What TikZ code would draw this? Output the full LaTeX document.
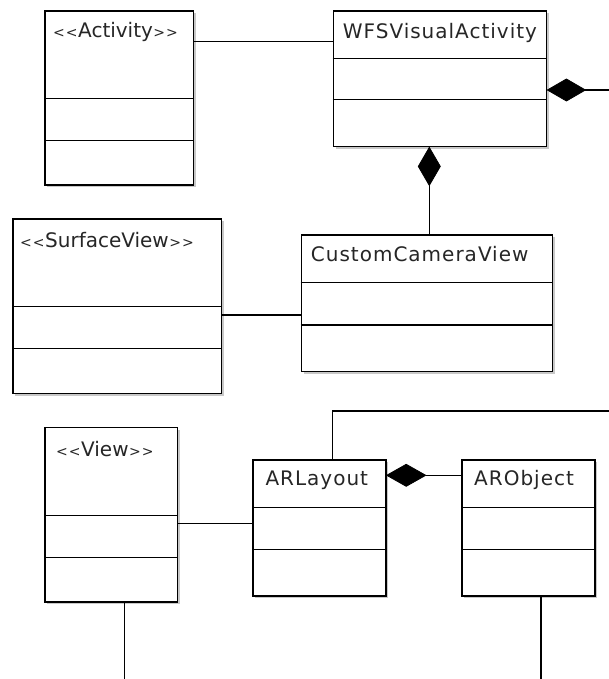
\documentclass[tikz,border=0pt]{standalone}
\usepackage{fontspec}
\setmainfont{DejaVu Sans}
\newfontfamily\namefont[LetterSpace=5]{DejaVu Sans}
\usetikzlibrary{calc,shadows}

\tikzset{
  classbox/.style={draw, line width=1.7pt, fill=white, anchor=north west, inner sep=0pt,
    drop shadow={shadow xshift=2pt, shadow yshift=-2pt, fill=black!30, opacity=0.7}},
  divider/.style={line width=1.5pt},
  link/.style={line width=1.5pt},
  classname/.style={anchor=base west, inner sep=0pt, text=black!85,
    font=\namefont\fontsize{20}{24}\selectfont},
  stereo/.style={anchor=base west, inner sep=0pt, text=black!85,
    font=\fontsize{20}{24}\selectfont},
  compdiamond/.style={draw, fill=black, line width=0.8pt, line join=miter},
}
% angle brackets set one by one, so the font does not join them into guillemets
\newcommand\ltlt{{\fontsize{14}{18}\selectfont<\kern1pt<\kern0.5pt}}
\newcommand\gtgt{{\fontsize{14}{18}\selectfont\kern0.5pt>\kern1pt>}}

\begin{document}
\begin{tikzpicture}[x=1pt, y=-1pt]
\useasboundingbox[fill=white] (0,0) rectangle (609,679);

% ---- classes ----
\node[classbox, minimum width=148.7pt, minimum height=174pt] (act) at (44,10) {};
\draw[divider] ($(act.north west)+(0,88.7)$) -- ($(act.north east)+(0,88.7)$);
\draw[divider] ($(act.north west)+(0,130.7)$) -- ($(act.north east)+(0,130.7)$);
\node[stereo] (act-label) at ($(act.north west)+(9,27.5)$) {\ltlt Activity\gtgt};

\node[classbox, minimum width=213pt, minimum height=135.7pt] (wfs) at (332.7,10) {};
\draw[divider] ($(wfs.north west)+(0,48.3)$) -- ($(wfs.north east)+(0,48.3)$);
\draw[divider] ($(wfs.north west)+(0,89.3)$) -- ($(wfs.north east)+(0,89.3)$);
\node[classname] (wfs-label) at ($(wfs.north west)+(10,28.3)$) {WFSVisualActivity};

\node[classbox, minimum width=208.7pt, minimum height=174.4pt] (sv) at (12,218.3) {};
\draw[divider] ($(sv.north west)+(0,88.4)$) -- ($(sv.north east)+(0,88.4)$);
\draw[divider] ($(sv.north west)+(0,130)$) -- ($(sv.north east)+(0,130)$);
\node[stereo] (sv-label) at ($(sv.north west)+(8,29.4)$) {\ltlt SurfaceView\gtgt};

\node[classbox, minimum width=251pt, minimum height=136.4pt] (ccv) at (300.7,234.3) {};
\draw[divider] ($(ccv.north west)+(0,48)$) -- ($(ccv.north east)+(0,48)$);
\draw[divider] ($(ccv.north west)+(0,90.7)$) -- ($(ccv.north east)+(0,90.7)$);
\node[classname] (ccv-label) at ($(ccv.north west)+(10,26.7)$) {CustomCameraView};

\node[classbox, minimum width=132.7pt, minimum height=174.3pt] (view) at (44,426.7) {};
\draw[divider] ($(view.north west)+(0,89)$) -- ($(view.north east)+(0,89)$);
\draw[divider] ($(view.north west)+(0,130.6)$) -- ($(view.north east)+(0,130.6)$);
\node[stereo] (view-label) at ($(view.north west)+(12,29.3)$) {\ltlt View\gtgt};

\node[classbox, minimum width=132.7pt, minimum height=135.7pt] (arl) at (252.3,459.3) {};
\draw[divider] ($(arl.north west)+(0,48)$) -- ($(arl.north east)+(0,48)$);
\draw[divider] ($(arl.north west)+(0,90)$) -- ($(arl.north east)+(0,90)$);
\node[classname] (arl-label) at ($(arl.north west)+(13,26)$) {ARLayout};

\node[classbox, minimum width=132.7pt, minimum height=135.7pt] (aro) at (461.3,459.3) {};
\draw[divider] ($(aro.north west)+(0,48)$) -- ($(aro.north east)+(0,48)$);
\draw[divider] ($(aro.north west)+(0,90)$) -- ($(aro.north east)+(0,90)$);
\node[classname] (aro-label) at ($(aro.north west)+(12.7,26)$) {ARObject};

% ---- free ends leaving the drawing ----
\coordinate (offR1) at (609,90);
\coordinate (offR2) at (609,411);
\coordinate (offB) at (0,679);

% ---- connectors ----
% Activity -- WFSVisualActivity
\coordinate (act-r) at ($(act.north east)+(0,31.7)$);
\draw[link] (act-r) -- (act-r -| wfs.west);

% WFSVisualActivity composition to the right
\coordinate (wfs-r) at ($(wfs.north east)+(0,80)$);
\draw[link] ($(wfs-r)+(38,0)$) -- (wfs-r -| offR1);
\draw[compdiamond] (wfs-r) -- ++(19,-11) -- ++(19,11) -- ++(-19,11) -- cycle;

% WFSVisualActivity <>-- CustomCameraView
\coordinate (wfs-b) at ($(wfs.south west)+(96.6,0)$);
\draw[link] ($(wfs-b)+(0,38)$) -- (wfs-b |- ccv.north);
\draw[compdiamond] (wfs-b) -- ++(11,19) -- ++(-11,19) -- ++(-11,-19) -- cycle;

% SurfaceView -- CustomCameraView
\coordinate (sv-r) at ($(sv.north east)+(0,96.7)$);
\draw[link] (sv-r) -- (sv-r -| ccv.west);

% View -- ARLayout
\coordinate (view-r) at ($(view.north east)+(0,96.6)$);
\draw[link] (view-r) -- (view-r -| arl.west);

% View downwards
\coordinate (view-b) at ($(view.south west)+(80.3,0)$);
\draw[link] (view-b) -- (view-b |- offB);

% ARLayout upwards and to the right
\coordinate (arl-t) at ($(arl.north west)+(80.4,0)$);
\draw[link] (arl-t) |- (offR2);

% ARLayout <>-- ARObject
\coordinate (arl-r) at ($(arl.north east)+(0,16)$);
\draw[link] ($(arl-r)+(39,0)$) -- (arl-r -| aro.west);
\draw[compdiamond] (arl-r) -- ++(19.5,-11) -- ++(19.5,11) -- ++(-19.5,11) -- cycle;

% ARObject downwards
\coordinate (aro-b) at ($(aro.south west)+(79.7,0)$);
\draw[link] (aro-b) -- (aro-b |- offB);
\end{tikzpicture}
\end{document}
